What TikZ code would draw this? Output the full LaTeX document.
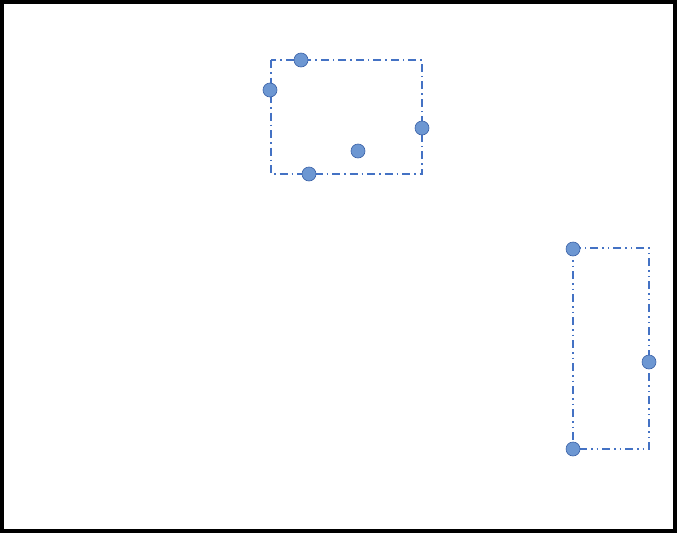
\documentclass[tikz,border=0pt]{standalone}
\begin{document}
\begin{tikzpicture}[x=1pt,y=-1pt,
  dot/.style={circle,draw=blue!50!black!70!cyan,fill=dotfill,line width=0.6pt,minimum size=14pt,inner sep=0pt},
  boxA/.style={draw=lineblue,line width=1.2pt,dash pattern=on 8pt off 4pt on 1.5pt off 4pt},
  boxB/.style={draw=lineblue,line width=1.2pt,dash pattern=on 8pt off 4pt on 1.5pt off 4pt on 1.5pt off 4pt}]
\definecolor{lineblue}{HTML}{4472C4}
\definecolor{dotfill}{HTML}{6D97D2}
\tikzset{dot/.append style={draw=lineblue!85!black}}
\useasboundingbox (0,0) rectangle (677,533);
\draw[line width=4pt] (2,2) rectangle (675,531);
\coordinate (a1) at (271,60);
\coordinate (a2) at (422,174);
\draw[boxA] (a1) rectangle (a2);
\coordinate (b1) at (573,248);
\coordinate (b2) at (649,449);
\draw[boxB] (b1) rectangle (b2);
\node[dot] (p1) at (301,60) {};
\node[dot] (p2) at (270,90) {};
\node[dot] (p3) at (422,128) {};
\node[dot] (p4) at (358,151) {};
\node[dot] (p5) at (309,174) {};
\node[dot] (q1) at (573,249) {};
\node[dot] (q2) at (649,362) {};
\node[dot] (q3) at (573,449) {};
\end{tikzpicture}
\end{document}
